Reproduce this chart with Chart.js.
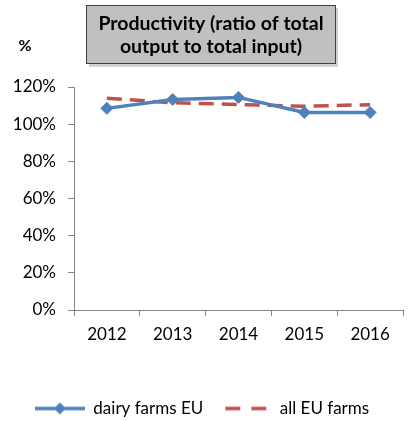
<!DOCTYPE html>
<html>
<head>
<meta charset="utf-8">
<script src="https://cdn.jsdelivr.net/npm/chart.js@4"></script>
<style>
  html, body { margin: 0; padding: 0; background: #fff; }
</style>
</head>
<body>
<canvas id="productivityChart" width="410" height="421"></canvas>
<script>
const years = ["2012", "2013", "2014", "2015", "2016"];
const dairyFarms = [108.5, 113.3, 114.4, 106.3, 106.3];
const allFarms = [114.0, 111.5, 110.6, 109.6, 110.5];
const seriesNames = ["dairy farms EU", "all EU farms"];
const titleLines = ["Productivity (ratio of total", "output to total input)"];
const unitLabel = "%";
const yMin = 0;
const yMax = 120;
const yStep = 20;

const BLUE = "#4f81bd";
const RED = "#c0504d";
const AXIS = "#868686";

Chart.defaults.font.family = "Lato, 'Open Sans', sans-serif";
Chart.defaults.color = "#000";

// legend samples: a short line, with a diamond for the marker series
function legendSample(color, dash, diamond) {
    const c = document.createElement("canvas");
    c.width = 50;
    c.height = 14;
    const g = c.getContext("2d");
    g.strokeStyle = color;
    g.lineWidth = 3.5;
    g.setLineDash(dash);
    g.beginPath();
    g.moveTo(diamond ? 0 : 4, 7);
    g.lineTo(50, 7);
    g.stroke();
    if (diamond) {
        g.fillStyle = color;
        g.beginPath();
        g.moveTo(25, 1);
        g.lineTo(31, 7);
        g.lineTo(25, 13);
        g.lineTo(19, 7);
        g.closePath();
        g.fill();
    }
    return c;
}

// grey title box and the unit label above the y axis
const titleBox = {
    id: "titleBox",
    afterDraw(chart) {
        const ctx = chart.ctx;
        ctx.save();
        ctx.fillStyle = "rgba(0,0,0,0.18)";
        ctx.fillRect(89, 8, 249, 59);
        ctx.fillStyle = "#c0c0c0";
        ctx.fillRect(87, 5, 249, 59);
        ctx.strokeStyle = "#404040";
        ctx.lineWidth = 1;
        ctx.strokeRect(86.5, 5.5, 249, 58);
        ctx.fillStyle = "#000";
        ctx.textAlign = "center";
        ctx.textBaseline = "middle";
        ctx.font = "bold 19.5px Lato, sans-serif";
        ctx.fillText(titleLines[0], 211, 24);
        ctx.fillText(titleLines[1], 211, 47);
        ctx.font = "bold 16px Lato, sans-serif";
        ctx.fillText(unitLabel, 25, 46);
        ctx.restore();
    }
};

const ctx = document.getElementById("productivityChart").getContext("2d");

new Chart(ctx, {
    type: "line",
    data: {
        labels: years,
        datasets: [
            {
                label: seriesNames[0],
                data: dairyFarms,
                borderColor: BLUE,
                backgroundColor: BLUE,
                borderWidth: 3.5,
                pointStyle: "rectRot",
                pointRadius: 6,
                pointBorderWidth: 1,
                tension: 0,
                legendImage: legendSample(BLUE, [], true),
            },
            {
                label: seriesNames[1],
                data: allFarms,
                borderColor: RED,
                backgroundColor: RED,
                borderWidth: 3.5,
                borderDash: [15, 8],
                pointRadius: 0,
                tension: 0,
                legendImage: legendSample(RED, [15, 11], false),
            },
        ],
    },
    options: {
        responsive: false,
        animation: false,
        layout: {
            padding: { top: 87, right: 6, left: 0, bottom: -6 },
        },
        plugins: {
            title: { display: false },
            tooltip: { enabled: false },
            legend: {
                position: "bottom",
                labels: {
                    usePointStyle: true,
                    pointStyleWidth: 50,
                    padding: 18,
                    font: { size: 17 },
                    color: "#000",
                    generateLabels(chart) {
                        return chart.data.datasets.map((ds, i) => ({
                            text: ds.label,
                            pointStyle: ds.legendImage,
                            fillStyle: ds.borderColor,
                            strokeStyle: ds.borderColor,
                            lineWidth: 0,
                            hidden: false,
                            datasetIndex: i,
                        }));
                    },
                },
            },
        },
        scales: {
            x: {
                offset: true,
                grid: {
                    offset: true,
                    drawOnChartArea: false,
                    drawTicks: true,
                    tickLength: 6,
                    color: AXIS,
                },
                border: { color: AXIS, width: 1 },
                ticks: { font: { size: 17 }, padding: 8, maxRotation: 0 },
                afterFit(scale) {
                    scale.height = 72;
                },
            },
            y: {
                min: yMin,
                max: yMax,
                grid: {
                    drawOnChartArea: false,
                    drawTicks: true,
                    tickLength: 6,
                    color: AXIS,
                },
                border: { color: AXIS, width: 1 },
                ticks: {
                    stepSize: yStep,
                    font: { size: 17 },
                    padding: 12,
                    callback: (v) => v + "%",
                },
                afterFit(scale) {
                    scale.width = 74;
                },
            },
        },
    },
    plugins: [titleBox],
});
</script>
</body>
</html>
